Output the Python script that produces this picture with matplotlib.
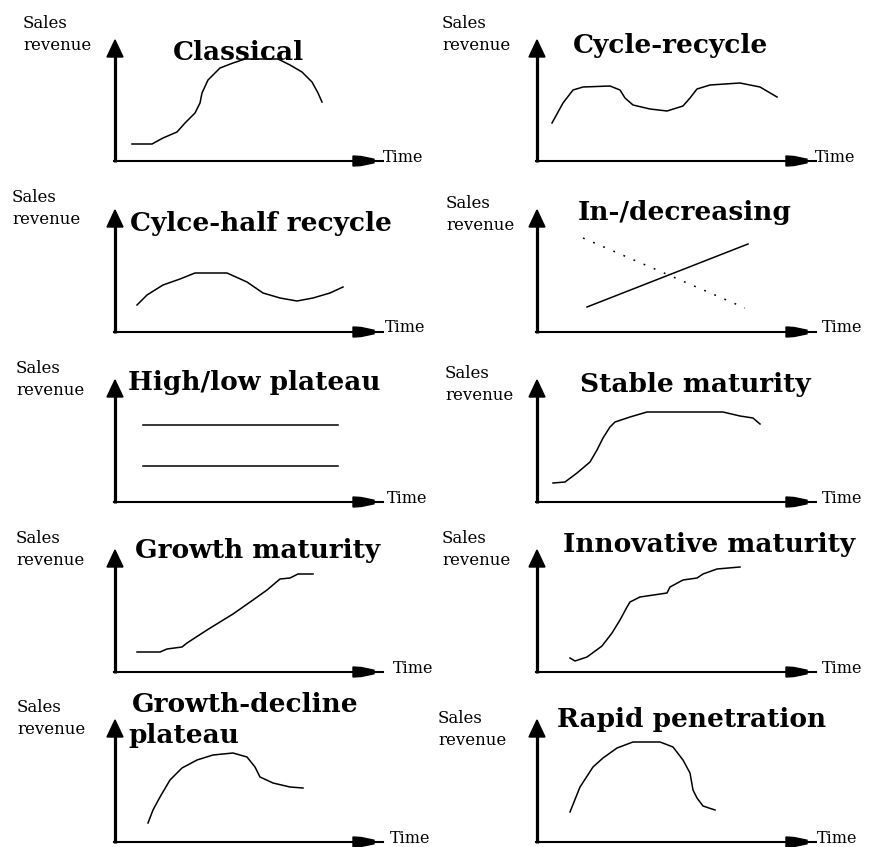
import matplotlib
matplotlib.use('Agg')
import matplotlib.pyplot as plt

W, H = 873, 847

# panel titles
titles = ['Classical', 'Cycle-recycle', 'Cylce-half recycle', 'In-/decreasing',
          'High/low plateau', 'Stable maturity', 'Growth maturity',
          'Innovative maturity', 'Growth-decline\nplateau', 'Rapid penetration']

# curves (time, sales), in local units
classical_t = [17, 37, 48, 62, 70, 80, 85, 87, 93, 105, 118, 130, 163, 175, 187, 197, 203, 207]
classical_s = [17, 17, 23, 29, 38, 48, 58, 68, 81, 93, 98, 102, 102, 96, 89, 79, 68, 59]

recycle_t = [15, 26, 36, 46, 73, 83, 88, 96, 113, 130, 146, 153, 160, 173, 203, 223, 240]
recycle_s = [38, 58, 71, 74, 75, 71, 63, 56, 52, 50, 55, 63, 72, 76, 78, 74, 64]

half_t = [22, 32, 48, 65, 80, 112, 132, 148, 165, 182, 198, 215, 228]
half_s = [27, 37, 47, 53, 59, 59, 50, 39, 34, 31, 34, 39, 45]

incr_t = [50, 211]
incr_s = [25, 88]
decr_t = [46, 208]
decr_s = [94, 24]

plateau_t = [28, 223]
high_s = [77, 77]
low_s = [36, 36]

stable_t = [16, 28, 40, 53, 60, 66, 73, 78, 93, 110, 186, 203, 216, 223]
stable_s = [19, 20, 29, 40, 52, 64, 75, 80, 85, 90, 90, 86, 84, 78]

growth_t = [22, 45, 52, 67, 72, 92, 118, 138, 152, 165, 175, 183, 198]
growth_s = [20, 20, 23, 25, 29, 42, 58, 72, 82, 93, 94, 98, 98]

innov_t = [33, 38, 50, 65, 75, 83, 90, 93, 103, 130, 133, 146, 160, 166, 180, 203]
innov_s = [14, 11, 15, 26, 39, 52, 65, 70, 75, 79, 85, 92, 94, 98, 103, 105]

gdecl_t = [33, 38, 45, 55, 67, 82, 98, 118, 132, 140, 145, 158, 175, 188]
gdecl_s = [19, 32, 45, 62, 74, 82, 87, 89, 85, 75, 65, 59, 55, 54]

rapid_t = [33, 43, 56, 66, 80, 96, 123, 136, 146, 153, 156, 160, 166, 178]
rapid_s = [30, 55, 75, 84, 94, 100, 100, 95, 82, 69, 52, 44, 36, 32]

series = [
    [(classical_t, classical_s, '-')],
    [(recycle_t, recycle_s, '-')],
    [(half_t, half_s, '-')],
    [(incr_t, incr_s, '-'), (decr_t, decr_s, (0, (1.2, 6)))],
    [(plateau_t, high_s, '-'), (plateau_t, low_s, '-')],
    [(stable_t, stable_s, '-')],
    [(growth_t, growth_s, '-')],
    [(innov_t, innov_s, '-')],
    [(gdecl_t, gdecl_s, '-')],
    [(rapid_t, rapid_s, '-')],
]

# layout in pixels: origin x, origin y, x-axis tip, y-axis tip
origins = [(115, 161, 375, 40), (537, 161, 808, 40),
           (115, 332, 375, 210), (537, 332, 808, 210),
           (115, 502, 375, 380), (537, 502, 808, 380),
           (115, 672, 375, 550), (537, 672, 808, 550),
           (115, 842, 375, 720), (537, 842, 808, 720)]
title_pos = [(173, 60), (573, 53), (130, 231), (578, 220), (128, 390),
             (580, 392), (135, 558), (563, 552), (132, 712), (557, 727)]
sales_pos = [(23, 28), (442, 28), (12, 202), (446, 208), (16, 373),
             (445, 378), (16, 543), (442, 543), (17, 712), (438, 723)]
time_x = [383, 815, 385, 822, 387, 822, 393, 822, 390, 817]

fig = plt.figure(figsize=(W / 100, H / 100), dpi=100)
fig.patch.set_facecolor('white')


def fx(px):
    return px / W


def fy(py):
    return 1 - py / H


for i in range(10):
    ox, oy, xt, yt = origins[i]
    xlen = xt - ox
    ylen = oy - yt
    ax = fig.add_axes([fx(ox), fy(oy), xlen / W, ylen / H])
    ax.set_xlim(0, xlen)
    ax.set_ylim(0, ylen)
    ax.axis('off')

    # axes with arrow heads
    ax.plot([0, 0], [-1, ylen - 12], color='black', lw=2.3, clip_on=False,
            solid_capstyle='butt')
    ax.fill([-8, 8, 0], [ylen - 17, ylen - 17, ylen], color='black', clip_on=False)
    ax.plot([-1, xlen + 8], [0, 0], color='black', lw=1.5, clip_on=False)
    ax.fill([xlen - 22, xlen - 14, xlen - 1, xlen - 1, xlen - 14, xlen - 22],
            [5, 4.5, 1.8, -1.8, -4.5, -5], color='black', clip_on=False)

    for t, s, ls in series[i]:
        ax.plot(t, s, color='black', lw=1.1, linestyle=ls, clip_on=False)

    tx, ty = title_pos[i]
    if '\n' in titles[i]:
        l1, l2 = titles[i].split('\n')
        fig.text(fx(tx), fy(ty), l1, fontsize=19, fontweight='bold',
                 family='DejaVu Serif', va='baseline', ha='left')
        fig.text(fx(tx - 4), fy(ty + 31), l2, fontsize=19, fontweight='bold',
                 family='DejaVu Serif', va='baseline', ha='left')
    else:
        fig.text(fx(tx), fy(ty), titles[i], fontsize=19, fontweight='bold',
                 family='DejaVu Serif', va='baseline', ha='left')

    sx, sy = sales_pos[i]
    fig.text(fx(sx), fy(sy), 'Sales', fontsize=12, family='DejaVu Serif',
             va='baseline', ha='left')
    fig.text(fx(sx), fy(sy + 22), 'revenue', fontsize=12, family='DejaVu Serif',
             va='baseline', ha='left')
    fig.text(fx(time_x[i]), fy(oy - 4), 'Time', fontsize=11.5,
             family='DejaVu Serif', va='center', ha='left')

fig.savefig('out.png', dpi=100, facecolor='white')
